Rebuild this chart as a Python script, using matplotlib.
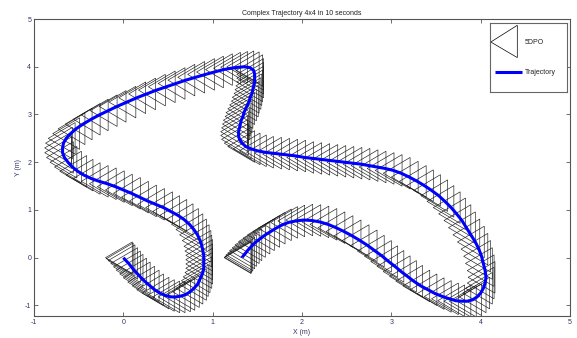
import numpy as np
import matplotlib
matplotlib.use("Agg")
import matplotlib.pyplot as plt
from matplotlib.collections import PolyCollection
from matplotlib.patches import Polygon

plt.rcParams.update({
    "font.family": "Liberation Sans",
    "font.size": 5,
    "axes.unicode_minus": False,
})

TITLE = "Complex Trajectory 4x4 in 10 seconds"
x_ticks = [-1, 0, 1, 2, 3, 4, 5]
y_ticks = [-1, 0, 1, 2, 3, 4, 5]

# robot centre, one sample per drawn outline
traj_x = [
    0.00, 0.01, 0.03, 0.06, 0.09, 0.12, 0.16, 0.20, 0.25, 0.30, 0.35, 0.41, 0.47, 0.53,
    0.59, 0.65, 0.70, 0.75, 0.79, 0.83, 0.85, 0.87, 0.89, 0.90, 0.90, 0.90, 0.90, 0.89, 0.88,
    0.86, 0.83, 0.79, 0.74, 0.68, 0.61, 0.53, 0.45, 0.36, 0.27, 0.18, 0.09, 0.00, -0.09,
    -0.18, -0.27, -0.36, -0.44, -0.51, -0.57, -0.62, -0.66, -0.68, -0.68, -0.67, -0.64,
    -0.59, -0.53,
    -0.45, -0.36, -0.27, -0.17, -0.07, 0.04, 0.15, 0.26, 0.37, 0.48, 0.59, 0.70, 0.81,
    0.92, 1.02, 1.12, 1.21, 1.29, 1.36, 1.42, 1.46,
    1.47, 1.47, 1.47, 1.46, 1.45, 1.44, 1.42, 1.41, 1.39, 1.37, 1.35, 1.34, 1.32, 1.31,
    1.30, 1.29, 1.29, 1.30, 1.33, 1.37, 1.43, 1.50,
    1.58, 1.67, 1.76, 1.85, 1.94, 2.03, 2.12, 2.21, 2.30, 2.39, 2.48, 2.57, 2.66, 2.75,
    2.84, 2.93, 3.02, 3.11,
    3.20, 3.29, 3.37, 3.45, 3.53, 3.60, 3.67, 3.73, 3.79, 3.84, 3.89, 3.94, 3.98, 4.01,
    4.03, 4.05, 4.06, 4.05, 4.03, 4.00, 3.96, 3.91, 3.85, 3.79,
    3.72, 3.65, 3.57, 3.49, 3.41, 3.33, 3.25, 3.18, 3.11, 3.04, 2.97, 2.90, 2.82, 2.74,
    2.65, 2.56, 2.47, 2.38, 2.29, 2.20, 2.11, 2.02, 1.93, 1.85,
    1.78, 1.71, 1.65, 1.59, 1.54, 1.49, 1.45, 1.42, 1.39, 1.37, 1.35, 1.34, 1.33, 1.33,
]
traj_y = [
    0.00, -0.02, -0.06, -0.12, -0.19, -0.26, -0.34, -0.42, -0.51, -0.59, -0.67, -0.74, -0.79, -0.82,
    -0.82, -0.80, -0.77, -0.71, -0.64, -0.56, -0.48, -0.40, -0.31, -0.22, -0.13, -0.04, 0.05, 0.14, 0.24,
    0.36, 0.48, 0.59, 0.70, 0.80, 0.89, 0.97, 1.05, 1.12, 1.19, 1.27, 1.35, 1.42, 1.49,
    1.55, 1.60, 1.66, 1.73, 1.81, 1.90, 2.00, 2.10, 2.20, 2.30, 2.40, 2.50,
    2.60, 2.70,
    2.80, 2.90, 2.99, 3.08, 3.17, 3.26, 3.35, 3.43, 3.51, 3.58, 3.65, 3.72, 3.78,
    3.84, 3.89, 3.94, 3.97, 3.99, 4.00, 3.98, 3.92,
    3.84, 3.76, 3.68, 3.60, 3.52, 3.44, 3.36, 3.28, 3.20, 3.12, 3.04, 2.96, 2.88, 2.80,
    2.72, 2.64, 2.56, 2.48, 2.40, 2.33, 2.28, 2.24,
    2.21, 2.19, 2.17, 2.15, 2.13, 2.10, 2.08, 2.06, 2.04, 2.02, 2.00, 1.98, 1.96, 1.93,
    1.90, 1.87, 1.83, 1.77,
    1.69, 1.60, 1.51, 1.41, 1.30, 1.18, 1.05, 0.92, 0.78, 0.63, 0.48, 0.33, 0.18, 0.03,
    -0.12, -0.27, -0.41, -0.53, -0.64, -0.74, -0.82, -0.88, -0.91, -0.91,
    -0.90, -0.86, -0.81, -0.75, -0.67, -0.59, -0.49, -0.39, -0.29, -0.18, -0.08, 0.03, 0.14, 0.25,
    0.36, 0.46, 0.55, 0.63, 0.70, 0.75, 0.78, 0.79, 0.77, 0.74,
    0.69, 0.62, 0.55, 0.48, 0.41, 0.34, 0.27, 0.21, 0.15, 0.10, 0.06, 0.03, 0.01, 0.00,
]

# 5DPO outline relative to its centre (axis units)
body_dx = [-0.20, 0.10, 0.10]
body_dy = [0.00, 0.33, -0.33]

AX_COL = "#555555"
TXT_COL = "#333366"

fig = plt.figure(figsize=(5.77, 3.38), dpi=100)
ax = fig.add_axes([34 / 577, 22 / 338, 536 / 577, 297 / 338])

verts = [np.column_stack([x + np.array(body_dx), y + np.array(body_dy)])
         for x, y in zip(traj_x, traj_y)]
ax.add_collection(PolyCollection(verts, facecolors="none", edgecolors="#1a1a1a",
                                 linewidths=0.45))
ax.plot(traj_x, traj_y, color="#0000ff", lw=2.2, solid_capstyle="butt")

ax.set_xlim(-1, 5)
ax.set_ylim(-1.22, 5)
ax.set_xticks(x_ticks)
ax.set_yticks(y_ticks)
ax.tick_params(direction="in", length=3.2, width=0.6, top=True, right=True,
               colors=AX_COL, labelcolor=TXT_COL, labelsize=5, pad=2)
for sp in ax.spines.values():
    sp.set_color(AX_COL)
    sp.set_linewidth(0.8)
ax.set_title(TITLE, fontsize=5, color="#222222", pad=3)
ax.set_xlabel("X (m)", fontsize=5, color=TXT_COL, labelpad=2)
ax.set_ylabel("Y (m)", fontsize=5, color=TXT_COL, labelpad=2)

# legend box (drawn by hand, in pixel units of the box)
lax = fig.add_axes([490 / 577, 1 - 92 / 338, 77 / 577, 69 / 338])
lax.set_xlim(0, 77)
lax.set_ylim(69, 0)
lax.set_xticks([])
lax.set_yticks([])
for sp in lax.spines.values():
    sp.set_color("#666666")
    sp.set_linewidth(0.8)
lax.add_patch(Polygon([[0.8, 19], [27.3, 2.3], [27.3, 34.6]], closed=True,
                      fill=False, edgecolor="black", lw=0.5))
lax.text(35, 19, "5DPO", fontsize=5, va="center", ha="left", color="#222222")
lax.plot([5, 31.7], [49, 49], color="#0000ff", lw=2.2, solid_capstyle="butt")
lax.text(35, 49, "Trajectory", fontsize=5, va="center", ha="left", color="#222222")

fig.savefig("out.png", dpi=100)
